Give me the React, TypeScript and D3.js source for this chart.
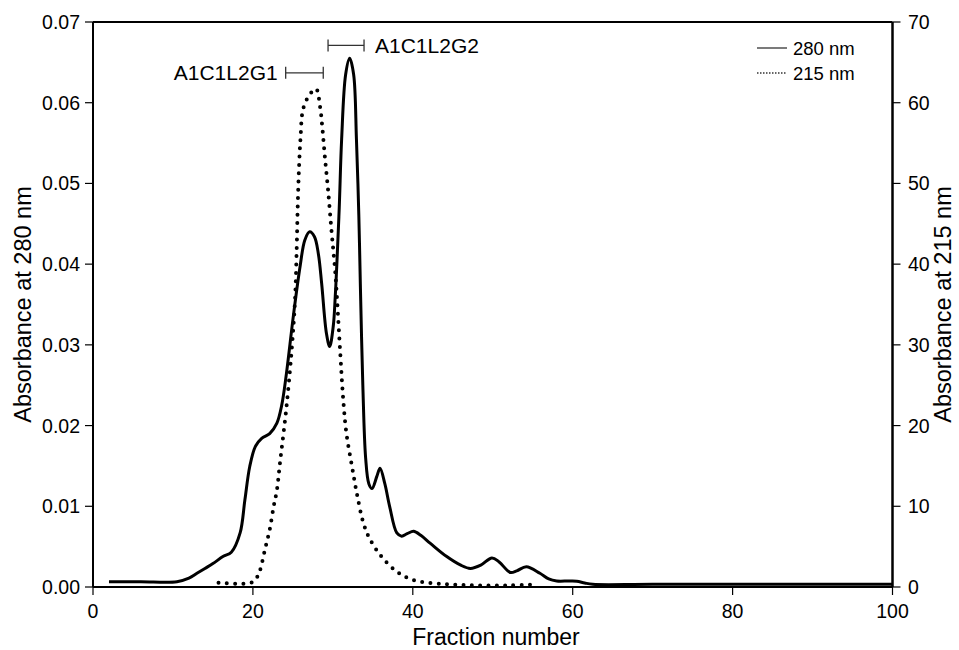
import React from "react";
import * as d3 from "d3";

// Absorbance at 280 nm (left axis): [fraction, absorbance]
const abs280: [number, number][] = [
  [2, 0.00066], [6, 0.00066], [10.5, 0.00066], [12, 0.0011], [13, 0.0017], [14, 0.0023],
  [15, 0.0029], [16.3, 0.0038], [17.3, 0.0043], [18.4, 0.0067], [19.0, 0.0108], [19.6, 0.0149],
  [20.3, 0.0174], [21.1, 0.0184], [22.1, 0.019], [23.0, 0.0203], [23.6, 0.0225], [24.2, 0.0265],
  [25.05, 0.0335], [25.9, 0.0397], [26.5, 0.043], [27.1, 0.044], [27.7, 0.0434], [28.2, 0.0412],
  [28.6, 0.0376], [29.2, 0.0314], [29.6, 0.0298], [30.05, 0.0323], [30.3, 0.036], [30.5, 0.04],
  [30.8, 0.047], [31.1, 0.0555], [31.6, 0.0635], [32.1, 0.0655], [32.6, 0.0635], [32.95, 0.0555],
  [33.25, 0.046], [33.45, 0.037], [33.75, 0.025], [34.1, 0.016], [34.5, 0.0128], [34.9, 0.0122],
  [35.5, 0.0137], [35.9, 0.0147], [36.5, 0.0128], [37.1, 0.01], [38.0, 0.0067], [38.6, 0.0063],
  [39.3, 0.0066], [40.1, 0.0069], [41.0, 0.0064], [42.2, 0.0054], [44.2, 0.0038], [46, 0.0027],
  [47.2, 0.0023], [48.5, 0.0027], [49.9, 0.0036], [50.8, 0.0031], [52.2, 0.0018], [53, 0.002],
  [54.2, 0.0025], [55.9, 0.0017], [57, 0.001], [58.0, 0.00074], [59.5, 0.00074], [60.5, 0.00072],
  [61.5, 0.0005], [62.5, 0.00033], [70, 0.00033], [100, 0.00033],
];

// Absorbance at 215 nm (right axis): [fraction, absorbance]
const abs215: [number, number][] = [
  [15.7, 0.53], [19.8, 0.53], [20.5, 1.2], [20.9, 2.1], [21.5, 4.6], [22.1, 7.1], [22.6, 10.0],
  [23.0, 12.0], [23.4, 15.5], [24.2, 22.3], [24.85, 29.4], [25.27, 35.6], [25.48, 42], [25.6, 47],
  [25.75, 51.5], [25.95, 55.5], [26.3, 59.3], [27.1, 61.0], [27.9, 61.7], [28.4, 59.5],
  [28.65, 57.3], [29.0, 53.3], [29.4, 49.2], [29.86, 43.8], [30.3, 39.0], [30.9, 29.4],
  [31.3, 23.2], [31.7, 19.0], [32.4, 14.9], [33.0, 11.6], [33.8, 8.0], [34.5, 6.2], [35.9, 4.0],
  [38.0, 1.9], [40.3, 0.8], [44.2, 0.35], [48, 0.2], [52, 0.2], [55.5, 0.3],
];

const xTicks = [0, 20, 40, 60, 80, 100];
const yLeftTicks = [0, 0.01, 0.02, 0.03, 0.04, 0.05, 0.06, 0.07];
const yRightTicks = [0, 10, 20, 30, 40, 50, 60, 70];

const brackets = [
  { label: "A1C1L2G1", from: 24.1, to: 28.8, level: 0.0637, side: "left" },
  { label: "A1C1L2G2", from: 29.4, to: 33.9, level: 0.0671, side: "right" },
];

const legendItems = [
  { label: "280 nm", dotted: false },
  { label: "215 nm", dotted: true },
];

const W = 959;
const H = 650;
const left = 93;
const right = 892.5;
const top = 22;
const bottom = 587;
const FONT = "'Liberation Sans', Arial, Helvetica, sans-serif";

export default function App() {
  const x = d3.scaleLinear().domain([0, 100]).range([left, right]);
  const yL = d3.scaleLinear().domain([0, 0.07]).range([bottom, top]);
  const yR = d3.scaleLinear().domain([0, 70]).range([bottom, top]);

  const line280 = d3
    .line<[number, number]>()
    .x((d) => x(d[0]))
    .y((d) => yL(d[1]))
    .curve(d3.curveCatmullRom.alpha(0.5));
  const line215 = d3
    .line<[number, number]>()
    .x((d) => x(d[0]))
    .y((d) => yR(d[1]))
    .curve(d3.curveCatmullRom.alpha(0.5));

  const tickFs = 19.5;

  return (
    <svg
      width={W}
      height={H}
      style={{ position: "absolute", left: 0, top: 0, background: "#fff" }}
      fontFamily={FONT}
    >
      <rect x={0} y={0} width={W} height={H} fill="#fff" />
      {/* data */}
      <path d={line280(abs280) || ""} fill="none" stroke="#000" strokeWidth={3} strokeLinejoin="round" />
      <path
        d={line215(abs215) || ""}
        fill="none"
        stroke="#000"
        strokeWidth={4}
        strokeLinecap="round"
        strokeDasharray="0 8.3"
      />

      {/* frame */}
      <line x1={left} x2={right} y1={top} y2={top} stroke="#000" strokeWidth={2} />
      <line x1={left} x2={right} y1={bottom} y2={bottom} stroke="#000" strokeWidth={2} />
      <line x1={left} x2={left} y1={top} y2={bottom} stroke="#000" strokeWidth={2} />
      <line x1={right} x2={right} y1={top} y2={bottom} stroke="#000" strokeWidth={2.5} />

      {/* x ticks */}
      {xTicks.map((t) => (
        <g key={"x" + t}>
          <line x1={x(t)} x2={x(t)} y1={bottom} y2={bottom + 8} stroke="#000" strokeWidth={1.2} />
          <text x={x(t)} y={618} textAnchor="middle" fontSize={tickFs}>
            {t}
          </text>
        </g>
      ))}
      {/* left ticks */}
      {yLeftTicks.map((t) => (
        <g key={"yl" + t}>
          <line x1={left - 8} x2={left} y1={yL(t)} y2={yL(t)} stroke="#000" strokeWidth={1.2} />
          <text x={80} y={yL(t)} dy="0.36em" textAnchor="end" fontSize={tickFs}>
            {t.toFixed(2)}
          </text>
        </g>
      ))}
      {/* right ticks */}
      {yRightTicks.map((t) => (
        <g key={"yr" + t}>
          <line x1={right} x2={right + 8} y1={yR(t)} y2={yR(t)} stroke="#000" strokeWidth={1.2} />
          <text x={908} y={yR(t)} dy="0.36em" textAnchor="start" fontSize={tickFs}>
            {t}
          </text>
        </g>
      ))}

      {/* axis titles */}
      <text x={496} y={645} textAnchor="middle" fontSize={23}>
        Fraction number
      </text>
      <text
        transform={`translate(23, ${(top + bottom) / 2}) rotate(-90)`}
        textAnchor="middle"
        dy="0.36em"
        fontSize={23.5}
      >
        Absorbance at 280 nm
      </text>
      <text
        transform={`translate(943, ${(top + bottom) / 2}) rotate(-90)`}
        textAnchor="middle"
        dy="0.36em"
        fontSize={23.5}
      >
        Absorbance at 215 nm
      </text>

      {/* fraction brackets */}
      {brackets.map((b) => {
        const yy = yL(b.level);
        const x1 = x(b.from);
        const x2 = x(b.to);
        return (
          <g key={b.label}>
            <line x1={x1} x2={x2} y1={yy} y2={yy} stroke="#333" strokeWidth={1.3} />
            <line x1={x1} x2={x1} y1={yy - 6} y2={yy + 6} stroke="#333" strokeWidth={1.3} />
            <line x1={x2} x2={x2} y1={yy - 6} y2={yy + 6} stroke="#333" strokeWidth={1.3} />
            <text
              x={b.side === "left" ? x1 - 8 : x2 + 11}
              y={yy}
              dy="0.36em"
              textAnchor={b.side === "left" ? "end" : "start"}
              fontSize={21}
            >
              {b.label}
            </text>
          </g>
        );
      })}

      {/* legend */}
      {legendItems.map((it, i) => {
        const yy = 48 + i * 25;
        return (
          <g key={it.label}>
            <line
              x1={757}
              x2={787}
              y1={yy}
              y2={yy}
              stroke="#333"
              strokeWidth={it.dotted ? 1.6 : 1.3}
              strokeDasharray={it.dotted ? "1.5 1.5" : undefined}
            />
            <text x={793} y={yy} dy="0.36em" fontSize={18.5}>
              {it.label}
            </text>
          </g>
        );
      })}
    </svg>
  );
}
